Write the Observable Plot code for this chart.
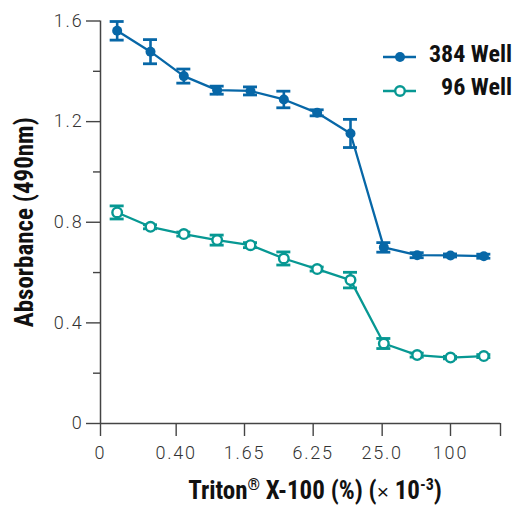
<!DOCTYPE html>
<html><head><meta charset="utf-8">
<script src="https://cdn.jsdelivr.net/npm/d3@7"></script>
<script src="https://cdn.jsdelivr.net/npm/@observablehq/plot@0.6"></script>
<style>
body{margin:0;background:#fff;}
#wrap{position:relative;width:513px;height:508px;overflow:hidden;}
.bold{font-family:"Liberation Sans Narrow","Roboto Condensed","Arial Narrow","Liberation Sans",sans-serif;font-weight:bold;color:#111;}
#legend{position:absolute;left:380px;top:40px;width:132px;}
#legend .row{position:relative;height:34px;}
#legend svg{position:absolute;left:0;top:0;}
#legend span{position:absolute;right:0;font-size:24px;line-height:24px;}
#xtitle{position:absolute;left:100px;width:430px;top:477px;text-align:center;font-size:25px;line-height:28px;white-space:nowrap;}
#xtitle sup{font-size:16px;vertical-align:9px;line-height:0;}
#xtitle .x{font-family:"Liberation Sans",sans-serif;font-weight:normal;font-size:21px;}
</style></head><body><div id="wrap"></div>
<script>
// dilution step positions (x), one per concentration
const steps = [0.5, 1.5, 2.5, 3.5, 4.5, 5.5, 6.5, 7.5, 8.5, 9.5, 10.5, 11.5];
const well384 = [1.561, 1.478, 1.381, 1.325, 1.322, 1.288, 1.235, 1.153, 0.700, 0.669, 0.668, 0.665];
const err384  = [0.037, 0.048, 0.028, 0.016, 0.016, 0.033, 0.012, 0.056, 0.019, 0.010, 0.006, 0.008];
const well96  = [0.839, 0.782, 0.753, 0.729, 0.709, 0.656, 0.614, 0.570, 0.318, 0.272, 0.262, 0.268];
const err96   = [0.026, 0.008, 0.008, 0.020, 0.010, 0.026, 0.008, 0.031, 0.020, 0.008, 0.005, 0.006];
const xTicks = [0, 2.27, 4.32, 6.38, 8.45, 10.5, 12];
const xTickLabels = ["0", "0.40", "1.65", "6.25", "25.0", "100", ""];
const yMajor = [0, 0.4, 0.8, 1.2, 1.6];
const yMinor = [0.2, 0.6, 1.0, 1.4];
const seriesNames = ["384 Well", "96 Well"];
const colors = ["#0767a7", "#079893"];

const rows384 = steps.map((x, i) => ({x, y: well384[i], e: err384[i]}));
const rows96 = steps.map((x, i) => ({x, y: well96[i], e: err96[i]}));
const tickLabel = new Map(xTicks.map((t, i) => [t, xTickLabels[i]]));

function errMarks(rows, color) {
  return [
    Plot.ruleX(rows, {x: "x", y1: d => d.y - d.e, y2: d => d.y + d.e, stroke: color, strokeWidth: 2.6}),
    Plot.ruleY(rows, {x1: "x", x2: "x", y: d => d.y + d.e, stroke: color, strokeWidth: 2.8, insetLeft: -7, insetRight: -7}),
    Plot.ruleY(rows, {x1: "x", x2: "x", y: d => d.y - d.e, stroke: color, strokeWidth: 2.8, insetLeft: -7, insetRight: -7})
  ];
}

const lightFont = "Roboto, 'Liberation Sans', sans-serif";
const boldFont = "'Liberation Sans Narrow','Roboto Condensed','Liberation Sans',sans-serif";

const chart = Plot.plot({
  width: 513, height: 508,
  marginLeft: 100, marginRight: 13, marginTop: 20.5, marginBottom: 85,
  x: {domain: [0, 12], axis: null},
  y: {domain: [0, 1.6], axis: null},
  style: {fontFamily: lightFont, fontSize: "18px", color: "#333", background: "#fff"},
  marks: [
    Plot.axisY(yMajor, {tickSize: 14, tickPadding: 3, tickFormat: d => d === 0 ? "0" : d.toFixed(1), label: null, stroke: "#444", strokeWidth: 1.4, fontSize: 18, fontWeight: 300, fill: "#333"}),
    Plot.axisY(yMinor, {tickSize: 7, tickFormat: () => "", label: null, stroke: "#444", strokeWidth: 1.4}),
    Plot.axisX(xTicks, {tickSize: 13, tickPadding: 10, tickFormat: d => tickLabel.get(d), label: null, stroke: "#444", strokeWidth: 1.4, fontSize: 18, fontWeight: 300, fill: "#333"}),
    Plot.ruleX([0], {y1: 0, y2: 1.6, stroke: "#444", strokeWidth: 1.5}),
    Plot.ruleY([0], {x1: 0, x2: 12, stroke: "#444", strokeWidth: 1.5}),
    Plot.text(["Absorbance (490nm)"], {frameAnchor: "left", dx: -76, rotate: -90, textAnchor: "middle", lineAnchor: "middle", fontFamily: boldFont, fontWeight: "bold", fontSize: 25, fill: "#111"}),
    ...errMarks(rows96, colors[1]),
    Plot.line(rows96, {x: "x", y: "y", stroke: colors[1], strokeWidth: 2.3}),
    Plot.dot(rows96, {x: "x", y: "y", r: 4.8, fill: "white", stroke: colors[1], strokeWidth: 2.4}),
    ...errMarks(rows384, colors[0]),
    Plot.line(rows384, {x: "x", y: "y", stroke: colors[0], strokeWidth: 2.3}),
    Plot.dot(rows384, {x: "x", y: "y", r: 5, fill: colors[0]})
  ]
});
d3.select(chart).selectAll("g[aria-label='y-axis tick label'] text, g[aria-label='x-axis tick label'] text").attr("letter-spacing", "1.8");
const wrap = document.getElementById("wrap");
wrap.appendChild(chart);

// legend
const legend = document.createElement("div");
legend.id = "legend";
legend.className = "bold";
legend.innerHTML = seriesNames.map((n, i) => `
  <div class="row">
    <svg width="40" height="34"><line x1="3" x2="36" y1="17" y2="17" stroke="${colors[i]}" stroke-width="2.3"/>
    ${i ? `<circle cx="20" cy="17" r="4.8" fill="white" stroke="${colors[i]}" stroke-width="2.4"/>` : `<circle cx="20" cy="17" r="5" fill="${colors[i]}"/>`}</svg>
    <span style="top:${i ? 1 : 2}px">${n}</span>
  </div>`).join("");
wrap.appendChild(legend);

const xt = document.createElement("div");
xt.id = "xtitle";
xt.className = "bold";
xt.innerHTML = `Triton<sup>®</sup> X-100 (%) (<span class="x">×</span> 10<sup>-3</sup>)`;
wrap.appendChild(xt);
</script></body></html>
